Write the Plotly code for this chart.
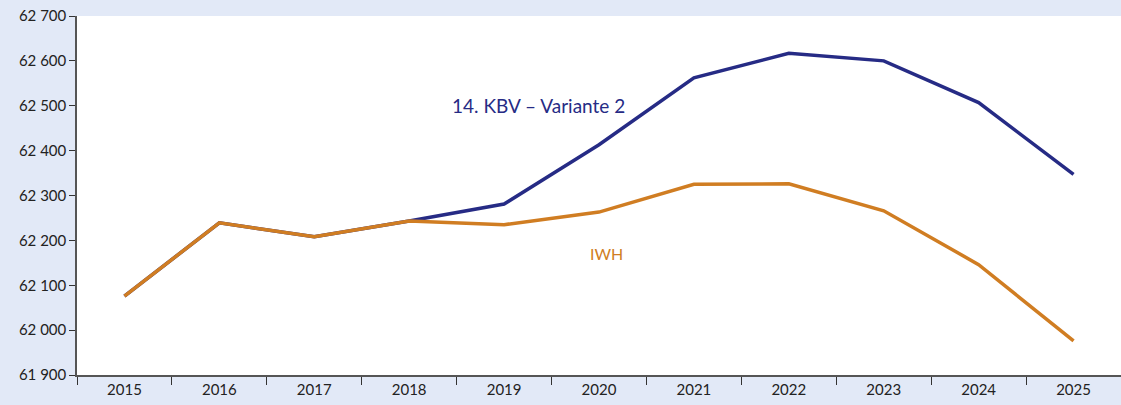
import plotly.graph_objects as go

years = ["2015", "2016", "2017", "2018", "2019", "2020", "2021", "2022", "2023", "2024", "2025"]
kbv = [62076, 62239, 62208, 62243, 62281, 62413, 62562, 62617, 62600, 62507, 62347]
iwh = [62076, 62239, 62208, 62243, 62235, 62263, 62325, 62326, 62266, 62146, 61976]
y_ticks = [61900, 62000, 62100, 62200, 62300, 62400, 62500, 62600, 62700]
y_labels = ["61 900", "62 000", "62 100", "62 200", "62 300", "62 400", "62 500", "62 600", "62 700"]

BLUE = "#262b85"
ORANGE = "#d07d22"
BG = "#e2e9f7"
FONT = "Lato"

fig = go.Figure()
fig.add_trace(go.Scatter(x=years, y=kbv, mode="lines", line=dict(color=BLUE, width=3.5),
                         name="14. KBV – Variante 2", showlegend=False))
fig.add_trace(go.Scatter(x=years, y=iwh, mode="lines", line=dict(color=ORANGE, width=3.5),
                         name="IWH", showlegend=False))

fig.add_annotation(x=4.36, y=62500, xref="x", yref="y", text="14. KBV – Variante 2",
                   showarrow=False, font=dict(family=FONT, size=19, color=BLUE))
fig.add_annotation(x=5.08, y=62170, xref="x", yref="y", text="IWH",
                   showarrow=False, font=dict(family=FONT, size=16, color=ORANGE))

fig.update_layout(
    width=1121, height=405,
    margin=dict(l=77, r=0, t=16, b=30),
    paper_bgcolor=BG, plot_bgcolor="white",
    font=dict(family=FONT, size=15, color="#222222"),
    xaxis=dict(type="category", range=[-0.5, 10.5], showgrid=False, showline=True,
               linecolor="#555555", linewidth=1.5, ticks="outside", tickson="boundaries",
               ticklen=8, tickcolor="#333333", tickfont=dict(size=15, family=FONT)),
    yaxis=dict(range=[61900, 62700], tickvals=y_ticks, ticktext=y_labels, showgrid=False,
               showline=True, linecolor="#555555", linewidth=1.5, ticks="outside",
               ticklen=6, tickcolor="#333333", zeroline=False,
               tickfont=dict(size=15, family=FONT)),
)

fig.write_html("out.html", config={"displayModeBar": False},
               post_script="document.body.style.margin='0';")
